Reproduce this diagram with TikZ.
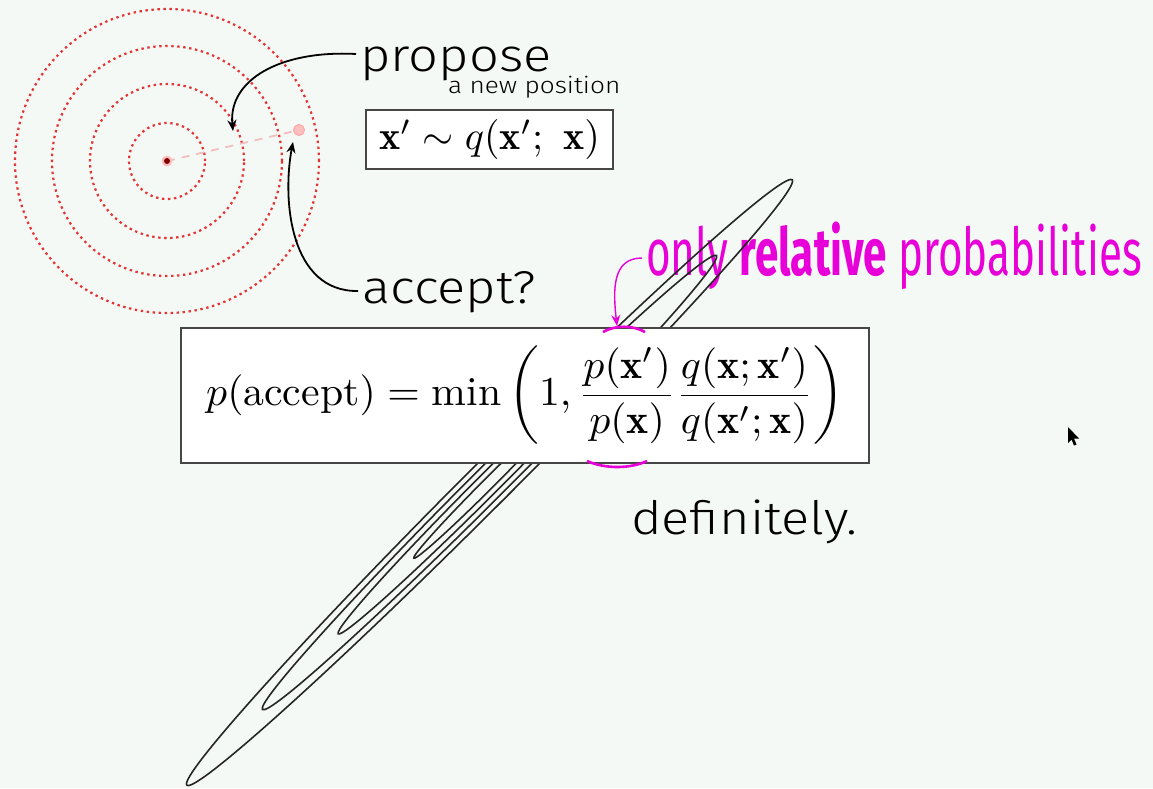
\documentclass[tikz,border=0pt]{standalone}
\usepackage{amsmath,amssymb}
\usepackage{graphicx}
\usepackage{fontspec}
\newfontfamily\thinfont{Fira Sans Light}[FakeStretch=1.14]
\newfontfamily\condfont{Fira Sans}[FakeStretch=0.64]
\usetikzlibrary{arrows.meta}
\definecolor{bgcol}{RGB}{245,249,245}
\definecolor{dotred}{RGB}{228,52,52}
\definecolor{pinkline}{RGB}{242,190,190}
\definecolor{hotpink}{RGB}{232,0,216}
\definecolor{boxgray}{RGB}{70,70,70}

\begin{document}
\begin{tikzpicture}[x=1pt,y=-1pt,
    reddot/.style={dotred,line width=2.2pt,dash pattern=on 2.4pt off 3.6pt},
    contour/.style={black!85,line width=1.6pt},
    arr/.style={line width=1.8pt,-{Stealth[length=11pt,width=9pt]}},
    words/.style={inner sep=0pt,anchor=base west}]
  \fill[bgcol] (0,0) rectangle (1153,788);
  \useasboundingbox (0,0) rectangle (1153,788);
  % proposal around the current point
  \coordinate (xcur) at (167,161);
  \coordinate (xnew) at (299,130);
  \draw[reddot] (xcur) circle (38pt) (xcur) circle (77pt) (xcur) circle (115pt) (xcur) circle (152pt);
  \draw[pinkline,line width=1.8pt,dash pattern=on 8pt off 7pt] (xcur) -- (xnew);
  \fill[red!25] (xcur) circle (5.5pt);
  \fill[red!50!black] (xcur) circle (3pt);
  \fill[red!25,draw=red!35,line width=1pt] (xnew) circle (5.5pt);
  \node[words,hotpink,font={\condfont\fontsize{66}{70}\selectfont}] (relative) at (646,275) {only \textbf{relative} probabilities};
  % target density
  \coordinate (mode) at (489.5,482.5);
  \draw[contour,rotate around={45:(mode)}] (mode) ellipse (428pt and 22pt) (mode) ellipse (321pt and 16.5pt)
      (mode) ellipse (214pt and 11pt) (mode) ellipse (107pt and 5.5pt);
  \node[draw=boxgray,line width=1.6pt,fill=white,minimum width=688pt,minimum height=135pt,inner sep=0pt] (pbox) at (525,395.5)
      {\scalebox{4.18}[4.1]{$\displaystyle p(\text{accept}) = \min\left(1, \frac{p(\mathbf{x}')}{p(\mathbf{x})}\frac{q(\mathbf{x};\mathbf{x}')}{q(\mathbf{x}';\mathbf{x})}\right)$}};
  \draw[hotpink,line width=2.6pt] (603,332) .. controls (615,325) and (633,325) .. (645,332);
  \draw[hotpink,line width=2.6pt] (587,461) .. controls (605,469) and (630,469) .. (647,461);
  \node[draw=boxgray,line width=1.4pt,fill=white,minimum width=247pt,minimum height=59pt,inner sep=0pt] (qbox) at (489.5,139.5)
      {\scalebox{4}{$\mathbf{x}' \sim q(\mathbf{x}';\ \mathbf{x})$}};
  \node[words,font={\thinfont\fontsize{46}{50}\selectfont}] (propose) at (360,71) {propose};
  \node[words,font={\thinfont\fontsize{23}{26}\selectfont}] (newpos) at (448,93) {a new position};
  \node[words,font={\thinfont\fontsize{46}{50}\selectfont}] (accept) at (362,303) {accept?};
  \node[words,font={\thinfont\fontsize{46}{51}\selectfont}] (definitely) at (631,534) {definitely.};
  \coordinate (proptip) at (233,131);
  \coordinate (acctip) at (293,142);
  \coordinate (ratiotip) at (617,326);
  \draw[arr] ([shift={(-4,-17)}]propose.base west) .. controls (280,50) and (228,80) .. (proptip);
  \draw[arr] ([shift={(-4,-12)}]accept.base west) .. controls (290,292) and (282,200) .. (acctip);
  \draw[arr,hotpink,line width=1.4pt] ([shift={(-4,-17)}]relative.base west) .. controls (612,258) and (613,290) .. (ratiotip);
  % mouse pointer
  \fill[black] (1068,427) -- (1068,443) -- (1071.5,439.5) -- (1074,445.5) -- (1076.5,444.5) -- (1074,438.5) -- (1079,438.5) -- cycle;
\end{tikzpicture}
\end{document}
